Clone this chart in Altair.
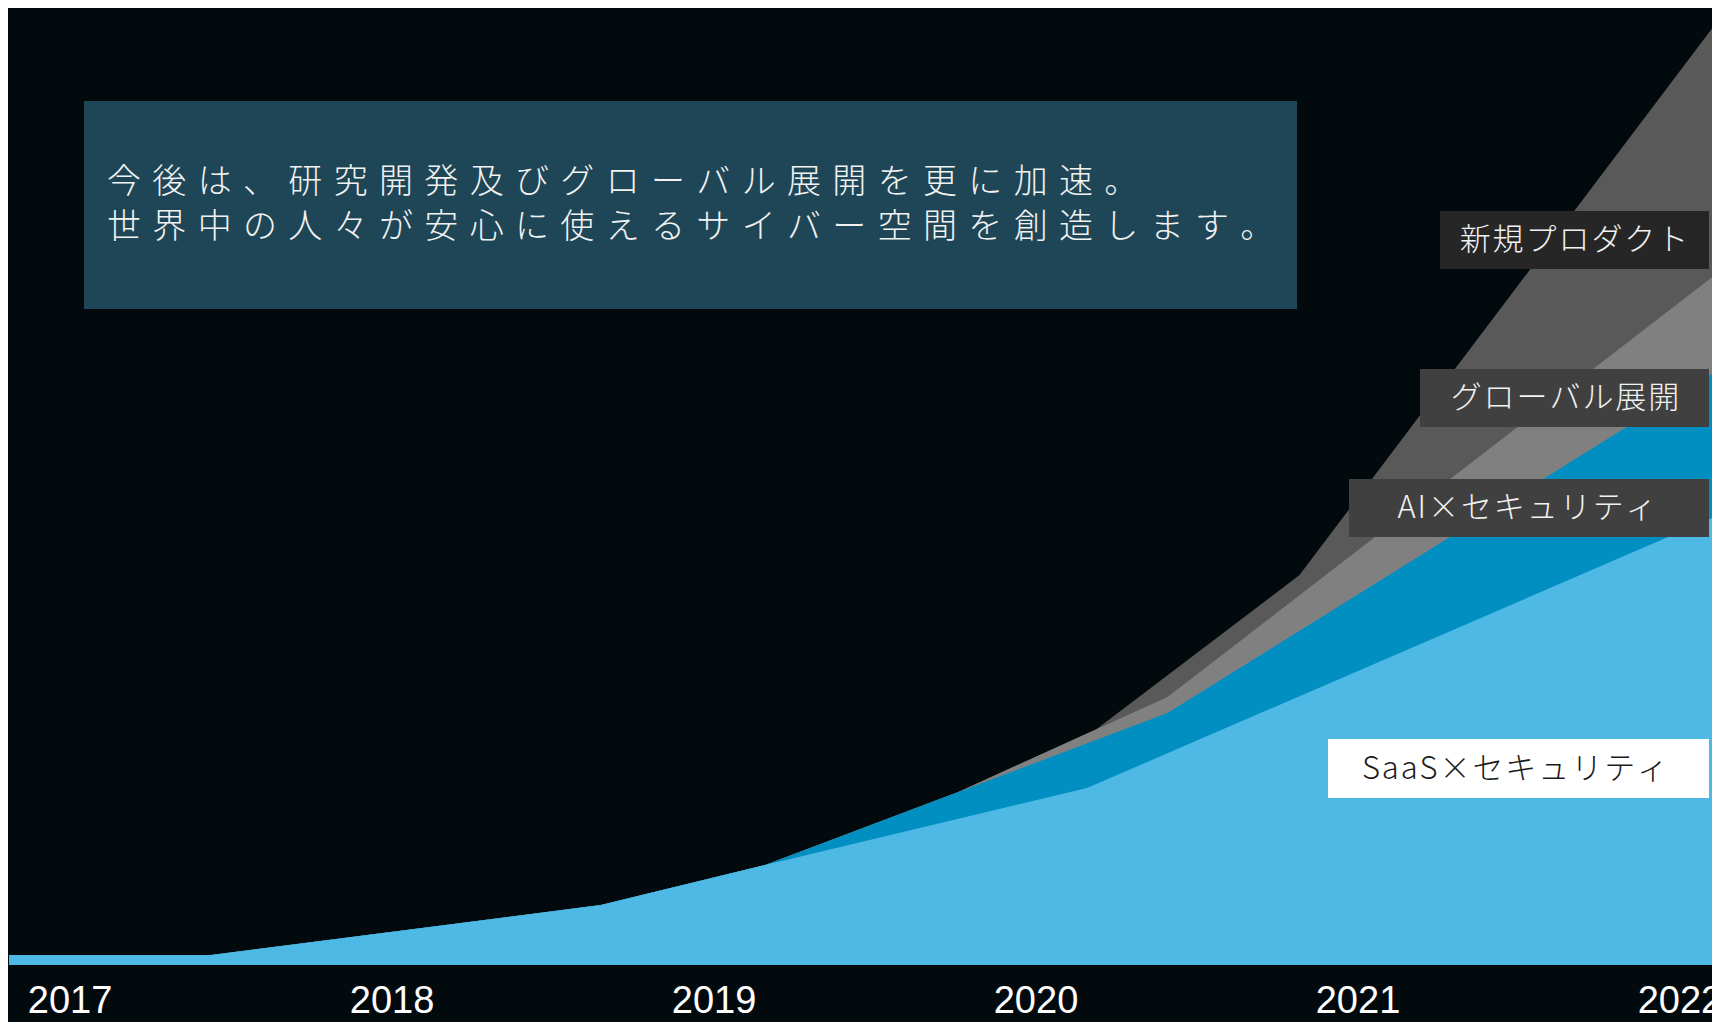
import altair as alt
import pandas as pd

# ---- data (arbitrary units) ----
years_saas = [2016.81, 2017.44, 2018.65, 2019.16, 2020.16, 2022.13]
vals_saas = [10, 10, 60, 100, 177, 451]

years_ai = [2016.81, 2017.44, 2018.65, 2019.16, 2020.41, 2022.13]
vals_ai_cum = [10, 10, 60, 100, 252, 597]

years_global = [2016.81, 2017.44, 2018.65, 2019.16, 2019.76, 2020.41, 2022.13]
vals_global_cum = [10, 10, 60, 100, 173, 268, 695]

years_new = [2016.81, 2017.44, 2018.65, 2019.16, 2019.76, 2020.19, 2020.82, 2022.13]
vals_new_cum = [10, 10, 60, 100, 173, 236, 390, 949]

tick_years = [2017, 2018, 2019, 2020, 2021, 2022]

series_names = ["新規プロダクト", "グローバル展開", "AI×セキュリティ", "SaaS×セキュリティ"]
series_colors = ["#595959", "#808080", "#008fc0", "#4fb9e6"]

headline_1 = "今後は、研究開発及びグローバル展開を更に加速。"
headline_2 = "世界中の人々が安心に使えるサイバー空間を創造します。"

SP = "\u2004"
HSP = "\u200a"
def spaced(s, sp):
    return sp.join(list(s))

rows = []
for name, xs, ys in [
    (series_names[0], years_new, vals_new_cum),
    (series_names[1], years_global, vals_global_cum),
    (series_names[2], years_ai, vals_ai_cum),
    (series_names[3], years_saas, vals_saas),
]:
    for x, y in zip(xs, ys):
        rows.append({"series": name, "year": x, "value": y})
df = pd.DataFrame(rows)

W, H = 1703, 957
xscale = alt.Scale(domain=[2016.812, 2022.101], nice=False, zero=False)
yscale = alt.Scale(domain=[0, 957], nice=False)
xaxis = alt.Axis(
    values=tick_years, format="d", title=None, grid=False, domain=False,
    ticks=False, labelFontSize=38, labelColor="#ffffff",
    labelFont="Liberation Sans", labelPadding=47,
    labelBaseline="alphabetic", labelFlush=False, labelOverlap=False,
)

base = alt.Chart(df)

layers = []
for name, col in zip(series_names, series_colors):
    layers.append(
        base.transform_filter(alt.datum.series == name)
        .mark_area(color=col, clip=True, opacity=1)
        .encode(x=alt.X("year:Q", scale=xscale, axis=xaxis),
                y=alt.Y("value:Q", scale=yscale, axis=None))
    )

# headline box
box = alt.Chart(pd.DataFrame({"k": [0]})).mark_rect(color="#1f4657").encode(
    x=alt.value(75), x2=alt.value(1288), y=alt.value(93), y2=alt.value(301)
)
txt_style = dict(font="Noto Sans CJK JP", fontSize=34, fontWeight=300,
                 color="#f2f2f2", align="left", baseline="middle")
line1 = alt.Chart(pd.DataFrame({"t": [spaced(headline_1, SP)]})).mark_text(**txt_style).encode(
    x=alt.value(98), y=alt.value(175), text="t:N"
)
line2 = alt.Chart(pd.DataFrame({"t": [spaced(headline_2, SP)]})).mark_text(**txt_style).encode(
    x=alt.value(98), y=alt.value(220), text="t:N"
)

# series label boxes
label_specs = [
    (series_names[0], "#262626", "#f2f2f2", 1431, 1700, 203, 261, 1565),
    (series_names[1], "#404040", "#f2f2f2", 1411, 1700, 361, 419, 1556),
    (series_names[2], "#404040", "#f2f2f2", 1340, 1700, 471, 529, 1518),
    (series_names[3], "#ffffff", "#1a1a1a", 1319, 1700, 731, 790, 1506),
]
ann = []
for name, bg, fg, x1, x2, y1, y2, tx in label_specs:
    d = pd.DataFrame({"t": [spaced(name, HSP)]})
    ann.append(alt.Chart(d).mark_rect(color=bg).encode(
        x=alt.value(x1), x2=alt.value(x2), y=alt.value(y1), y2=alt.value(y2)))
    ann.append(alt.Chart(d).mark_text(font="Noto Sans CJK JP", fontSize=31,
                                      fontWeight=300, color=fg, align="center",
                                      baseline="middle").encode(
        x=alt.value(tx), y=alt.value((y1 + y2) / 2 + 1), text="t:N"))

chart = alt.layer(*layers, box, line1, line2, *ann).properties(
    width=W, height=H,
    autosize=alt.AutoSizeParams(type="none"),
    padding={"left": 1, "top": 0, "right": 0, "bottom": 57},
    background="#020a0e",
).configure_view(stroke=None, fill="#020a0e")

chart.save("out.html", embed_options={"renderer": "svg", "actions": False})
